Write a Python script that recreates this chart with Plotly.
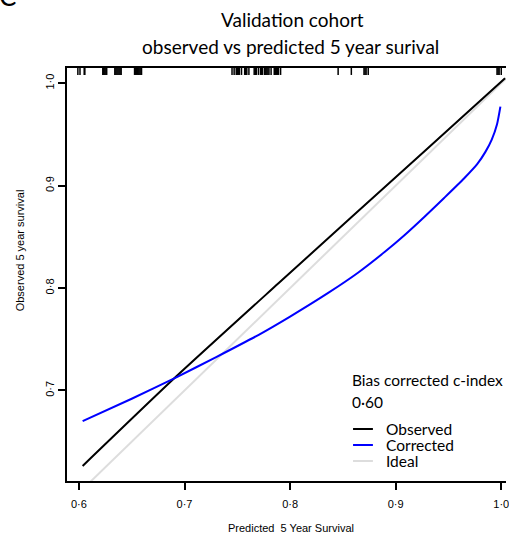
import plotly.graph_objects as go

# Calibration curves: predicted vs observed 5-year survival
obs_x = [0.6035, 0.6903, 0.789, 0.9286, 1.0036]
obs_y = [0.6263, 0.7119, 0.8047, 0.9349, 1.005]

corr_x = [0.6035, 0.65, 0.6903, 0.73, 0.7703, 0.80, 0.8361, 0.8643, 0.8895,
          0.9083, 0.9271, 0.9459, 0.9647, 0.9772, 0.9850, 0.9910, 0.9960, 0.9992]
corr_y = [0.670, 0.6919, 0.7119, 0.7326, 0.7544, 0.7722, 0.7953, 0.8150, 0.8352,
          0.8516, 0.8694, 0.8880, 0.9070, 0.9210, 0.9330, 0.9450, 0.9600, 0.9772]

ideal_x = [0.58, 1.02]
ideal_y = [0.58, 1.02]

# Distribution of predicted values (rug along the top)
rug_x = [0.599, 0.601, 0.605, 0.6056,
         0.6226, 0.6235, 0.6245, 0.6255, 0.6263,
         0.634, 0.635, 0.636, 0.637, 0.638, 0.639, 0.640,
         0.6527, 0.6537, 0.6547, 0.6557, 0.6567, 0.6577, 0.6587, 0.6593,
         0.745, 0.747, 0.749, 0.750, 0.751, 0.752, 0.754, 0.757, 0.758, 0.759,
         0.761, 0.766, 0.767, 0.768, 0.770, 0.772, 0.773, 0.774, 0.776, 0.777,
         0.778, 0.779, 0.780, 0.782, 0.785, 0.786, 0.787, 0.788, 0.789, 0.791,
         0.8455, 0.858, 0.870, 0.871, 0.872, 0.874,
         0.996, 0.997, 0.998, 1.000]

x_ticks = [0.6, 0.7, 0.8, 0.9, 1.0]
x_ticklabels = ["0·6", "0·7", "0·8", "0·9", "1·0"]
y_ticks = [0.7, 0.8, 0.9, 1.0]
y_ticklabels = ["0·7", "0·8", "0·9", "1·0"]

series_names = ["Observed", "Corrected", "Ideal"]
series_colors = ["black", "#0000ff", "#dddddd"]
c_index_label = "0·60"

X_RANGE = [0.5887, 1.0045]
Y_RANGE = [0.6116, 1.0149]

W, H = 509, 534
ML, MR, MT, MB = 67, 0, 68, 53
PW = W - ML - MR
PH = H - MT - MB


def px(x):
    return (x - ML) / PW


def py(y):
    return (H - MB - y) / PH


fig = go.Figure()

fig.add_trace(go.Scatter(x=ideal_x, y=ideal_y, mode="lines",
                         line=dict(color=series_colors[2], width=2),
                         showlegend=False, hoverinfo="skip"))
fig.add_trace(go.Scatter(x=obs_x, y=obs_y, mode="lines",
                         line=dict(color=series_colors[0], width=2, shape="spline",
                                   smoothing=0.6),
                         showlegend=False))
fig.add_trace(go.Scatter(x=corr_x, y=corr_y, mode="lines",
                         line=dict(color=series_colors[1], width=2, shape="spline",
                                   smoothing=0.6),
                         showlegend=False))

# rug ticks hanging from the top frame
rug_top = Y_RANGE[1]
rug_len = 0.0068
rx, ry = [], []
for v in rug_x:
    rx += [v, v, None]
    ry += [rug_top, rug_top - rug_len, None]
fig.add_trace(go.Scatter(x=rx, y=ry, mode="lines",
                         line=dict(color="black", width=1.5),
                         showlegend=False, hoverinfo="skip"))

tick_font = dict(family="Liberation Sans, Arial, sans-serif", size=11, color="black")

fig.update_xaxes(range=X_RANGE, tickvals=x_ticks, ticktext=x_ticklabels,
                 showgrid=False, zeroline=False, showline=True, mirror=True,
                 linecolor="black", linewidth=2, ticks="outside", ticklen=7,
                 tickwidth=2, tickcolor="black", tickfont=tick_font,
                 ticklabelstandoff=5, ticklabeloverflow="allow")
fig.update_yaxes(range=Y_RANGE, tickvals=y_ticks, ticktext=y_ticklabels,
                 showgrid=False, zeroline=False, showline=True, mirror=False,
                 linecolor="black", linewidth=2, ticks="outside", ticklen=7,
                 tickwidth=2, tickcolor="black", tickfont=tick_font,
                 tickangle=-90, ticklabelstandoff=0)

title_font = dict(family="Lato, sans-serif", size=19, color="black")
leg_font = dict(family="Lato, sans-serif", size=15.5, color="black")

annotations = [
    dict(text="Validation cohort", x=px(294), y=py(20), font=title_font),
    dict(text="observed vs predicted 5 year surival", x=px(292), y=py(47), font=title_font),
    dict(text="C", x=px(-3), y=py(14), xanchor="left", yanchor="bottom",
         font=dict(family="Lato, sans-serif", size=26, color="black")),
    dict(text="Predicted  5 Year Survival", x=px(293), y=py(528), font=tick_font),
    dict(text="Observed 5 year survival", x=px(20), y=py(250), textangle=-90, font=tick_font),
    dict(text="Bias corrected c-index", x=px(352), y=py(380), xanchor="left", font=leg_font),
    dict(text=c_index_label, x=px(352), y=py(402), xanchor="left", font=leg_font),
]
shapes = []
leg_rows = [429, 445, 461]
for name, color, row in zip(series_names, series_colors, leg_rows):
    annotations.append(dict(text=name, x=px(386), y=py(row), xanchor="left", font=leg_font))
    shapes.append(dict(type="line", xref="paper", yref="paper",
                       x0=px(355), x1=px(375), y0=py(row), y1=py(row),
                       line=dict(color=color, width=2)))

for a in annotations:
    a.setdefault("xanchor", "center")
    a.setdefault("yanchor", "middle")
    a.update(xref="paper", yref="paper", showarrow=False)

fig.update_layout(width=W, height=H, margin=dict(l=ML, r=MR, t=MT, b=MB),
                  plot_bgcolor="white", paper_bgcolor="white",
                  annotations=annotations, shapes=shapes, showlegend=False)

fig.write_html("out.html")
